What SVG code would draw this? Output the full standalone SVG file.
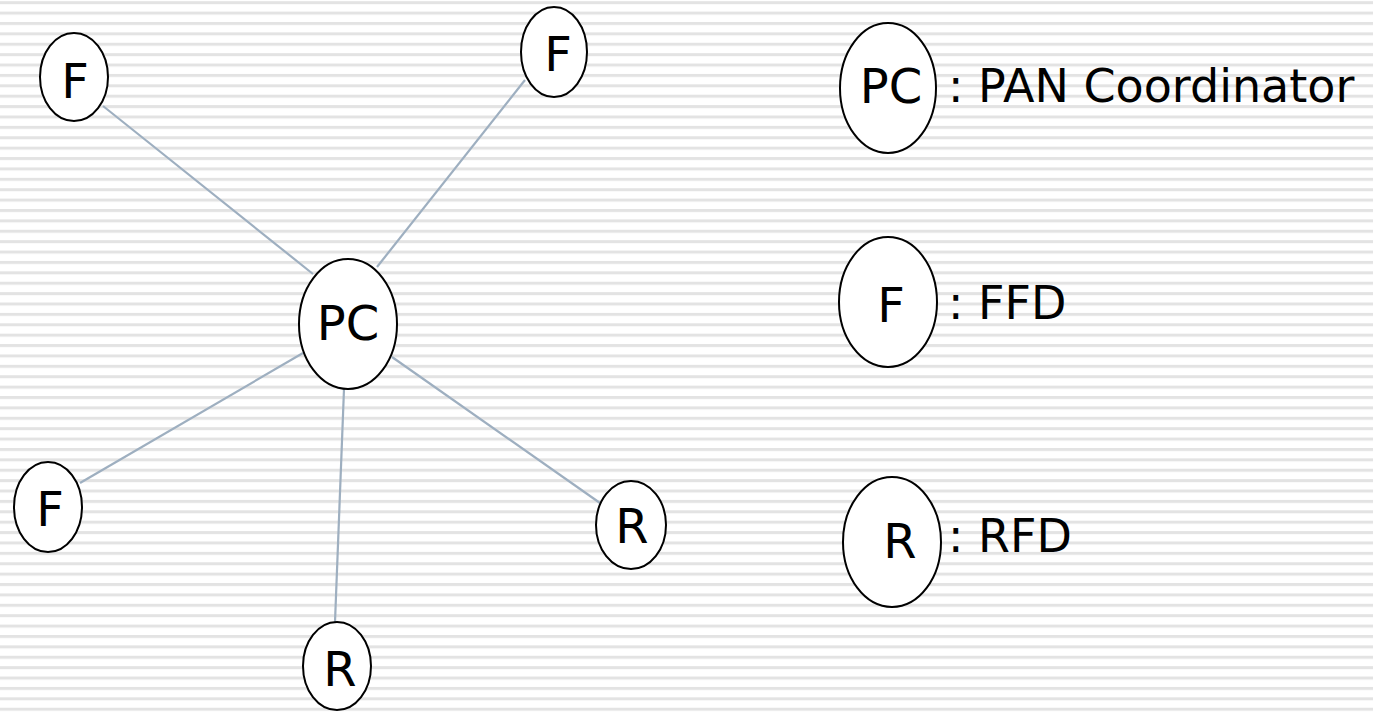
<svg xmlns="http://www.w3.org/2000/svg" width="1373" height="712" viewBox="0 0 1373 712">
<defs>
<pattern id="stripes" x="0" y="1.2" width="1373" height="10.39" patternUnits="userSpaceOnUse">
<rect x="0" y="0" width="1373" height="3" fill="#e3e3e3"/>
</pattern>
<style>
.node ellipse{fill:#fff;stroke:#000;stroke-width:2}
.lbl{font-family:"DejaVu Sans",Verdana,sans-serif;font-size:48px;fill:#000;text-anchor:middle}
.leg{font-family:"DejaVu Sans",Verdana,sans-serif;font-size:46px;fill:#000}
#connectors line{stroke:#9eafc0;stroke-width:2.2}
</style>
</defs>
<rect width="1373" height="712" fill="#fff"/>
<rect width="1373" height="712" fill="url(#stripes)"/>
<g id="connectors">
<line x1="313" y1="274" x2="103" y2="106"/>
<line x1="377" y1="267" x2="525" y2="80"/>
<line x1="303" y1="353" x2="80" y2="483"/>
<line x1="392" y1="357" x2="600" y2="503"/>
<line x1="344" y1="389" x2="335" y2="622"/>
</g>
<g id="pc" class="node"><ellipse cx="348" cy="324" rx="49" ry="65"/><text class="lbl" x="348" y="340">PC</text></g>
<g id="f1" class="node"><ellipse cx="74" cy="77" rx="34" ry="44"/><text class="lbl" x="75" y="98">F</text></g>
<g id="f2" class="node"><ellipse cx="554" cy="52" rx="33" ry="45"/><text class="lbl" x="558" y="71">F</text></g>
<g id="f3" class="node"><ellipse cx="48" cy="507" rx="34" ry="45"/><text class="lbl" x="50" y="526">F</text></g>
<g id="r1" class="node"><ellipse cx="631" cy="525" rx="35" ry="44"/><text class="lbl" x="632" y="543">R</text></g>
<g id="r2" class="node"><ellipse cx="337" cy="666" rx="34" ry="44"/><text class="lbl" x="340" y="686">R</text></g>
<g id="leg-pc" class="node"><ellipse cx="888" cy="88" rx="48" ry="65"/><text class="lbl" x="891" y="103">PC</text><text class="leg" x="948" y="102">: PAN Coordinator</text></g>
<g id="leg-f" class="node"><ellipse cx="888" cy="302" rx="49" ry="65"/><text class="lbl" x="891" y="322">F</text><text class="leg" x="948" y="319">: FFD</text></g>
<g id="leg-r" class="node"><ellipse cx="892" cy="542" rx="49" ry="65"/><text class="lbl" x="900" y="558">R</text><text class="leg" x="948" y="552">: RFD</text></g>
</svg>
